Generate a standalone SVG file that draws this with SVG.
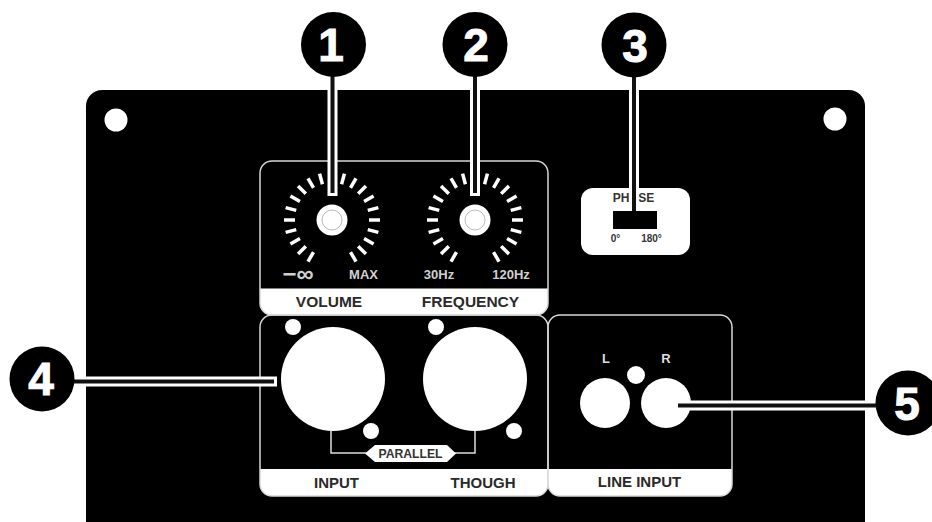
<svg xmlns="http://www.w3.org/2000/svg" width="932" height="522" viewBox="0 0 932 522">
<style>
text{font-family:"Liberation Sans",Arial,sans-serif;font-weight:700;text-anchor:middle}
.w{fill:#fff}.k{fill:#000}
.t{fill:#d0d0d0}.t,.d{font-size:13px}.d{fill:#333}
.lbl{font-size:15px;fill:#2a2a2a}
.num{font-size:46px;fill:#fff;stroke:#fff;stroke-width:1}
.panel{fill:none;stroke:#d8d8d8;stroke-width:1.5}
.tick{stroke:#fff;stroke-width:3.5}
.halo{stroke:#fff;stroke-width:10;fill:none}
.core{stroke:#111;stroke-width:4;fill:none}
</style>
<defs>
<g id="ticks">
<line class="tick" x1="37" x2="48" transform="rotate(-75)"/><line class="tick" x1="37" x2="48" transform="rotate(-60)"/><line class="tick" x1="37" x2="48" transform="rotate(-45)"/><line class="tick" x1="37" x2="48" transform="rotate(-30)"/><line class="tick" x1="37" x2="48" transform="rotate(-15)"/><line class="tick" x1="37" x2="48"/><line class="tick" x1="37" x2="48" transform="rotate(15)"/><line class="tick" x1="37" x2="48" transform="rotate(30)"/><line class="tick" x1="37" x2="48" transform="rotate(45)"/><line class="tick" x1="37" x2="48" transform="rotate(60)"/>
<line class="tick" x1="37" x2="48" transform="rotate(-105)"/><line class="tick" x1="37" x2="48" transform="rotate(-120)"/><line class="tick" x1="37" x2="48" transform="rotate(-135)"/><line class="tick" x1="37" x2="48" transform="rotate(-150)"/><line class="tick" x1="37" x2="48" transform="rotate(-165)"/><line class="tick" x1="37" x2="48" transform="rotate(180)"/><line class="tick" x1="37" x2="48" transform="rotate(165)"/><line class="tick" x1="37" x2="48" transform="rotate(150)"/><line class="tick" x1="37" x2="48" transform="rotate(135)"/><line class="tick" x1="37" x2="48" transform="rotate(120)"/>
<circle r="15.5" class="w"/><circle r="10" fill="none" stroke="#bbb" stroke-width="1"/>
</g>
</defs>
<rect width="932" height="522" fill="#fff"/>
<g id="plate">
<path class="k" d="M86 522V106a16 16 0 0 1 16-16H849a16 16 0 0 1 16 16V522Z"/>
<circle class="w" cx="116" cy="120" r="11.5"/>
<circle class="w" cx="835" cy="119" r="11.5"/>
</g>
<g id="controls-panel">
<path class="w" d="M260 288.500H548V303a12 12 0 0 1-12 12H272a12 12 0 0 1-12-12Z"/>
<rect class="panel" x="260" y="161" width="288" height="154" rx="12"/>
<use href="#ticks" x="332" y="220"/>
<use href="#ticks" x="475" y="220"/>
<text class="t" x="298" y="282" style="font-size:24px">−∞</text>
<text class="t" x="363.500" y="279">MAX</text>
<text class="t" x="439" y="279">30Hz</text>
<text class="t" x="511" y="279">120Hz</text>
<text class="lbl" x="329" y="307" style="font-size:15.500px">VOLUME</text>
<text class="lbl" x="470.500" y="307" style="font-size:15.500px">FREQUENCY</text>
</g>
<g id="phase-switch">
<rect class="w" x="581" y="188" width="109" height="67" rx="12"/>
<rect class="k" x="613" y="211" width="44" height="18"/>
<text class="d" x="633.500" y="202" style="font-size:12px">PHASE</text>
<text class="d" x="615.500" y="242" style="font-size:10px">0°</text>
<text class="d" x="651.500" y="242" style="font-size:10px">180°</text>
</g>
<g id="input-panel">
<path class="w" d="M260 469H548V484a12 12 0 0 1-12 12H272a12 12 0 0 1-12-12Z"/>
<rect class="panel" x="260" y="315" width="288" height="181" rx="12"/>
<circle class="w" cx="333" cy="379" r="52"/>
<circle class="w" cx="475" cy="379" r="52"/>
<circle class="w" cx="293" cy="327" r="8"/>
<circle class="w" cx="371" cy="431" r="8"/>
<circle class="w" cx="436" cy="327" r="8"/>
<circle class="w" cx="514" cy="431" r="8"/>
<path d="M331 431V453H475V431" fill="none" stroke="#ddd" stroke-width="1.500"/>
<path class="w" d="M365 453.500L375 445H447L456 453.500L447 462H375Z"/>
<text class="d" x="410.500" y="458" style="font-size:12.200px">PARALLEL</text>
<text class="lbl" x="336.500" y="488">INPUT</text>
<text class="lbl" x="483" y="488">THOUGH</text>
</g>
<g id="line-input-panel">
<path class="w" d="M548 469H732V484a12 12 0 0 1-12 12H560a12 12 0 0 1-12-12Z"/>
<rect class="panel" x="548" y="315" width="184" height="181" rx="12"/>
<circle class="w" cx="605" cy="403" r="25"/>
<circle class="w" cx="666" cy="403" r="25"/>
<circle class="w" cx="636" cy="375" r="9"/>
<text class="t" x="606" y="363" style="fill:#ddd">L</text>
<text class="t" x="666" y="363" style="fill:#ddd">R</text>
<text class="lbl" x="639.500" y="487">LINE INPUT</text>
</g>
<g id="connectors">
<path class="halo" d="M332.500 90V196M475 90V196M634 90V206"/>
<path class="halo" d="M86 381.500H277M678 405.500H865"/>
<path class="core" d="M332.500 70V193M475 70V193M634 70V211"/>
<path class="core" d="M60 381.500H274M678 405.500H880"/>
</g>
<g id="callout-1"><circle class="k" cx="333.500" cy="44.500" r="32.500"/><text class="num" x="331" y="61">1</text></g>
<g id="callout-2"><circle class="k" cx="475" cy="44.500" r="32.500"/><text class="num" x="476" y="61">2</text></g>
<g id="callout-3"><circle class="k" cx="634" cy="45" r="32.500"/><text class="num" x="635" y="62">3</text></g>
<g id="callout-4"><circle class="k" cx="42" cy="379" r="32.500"/><text class="num" x="41" y="395">4</text></g>
<g id="callout-5"><circle class="k" cx="908" cy="403" r="32.500"/><text class="num" x="907" y="420">5</text></g>
</svg>
